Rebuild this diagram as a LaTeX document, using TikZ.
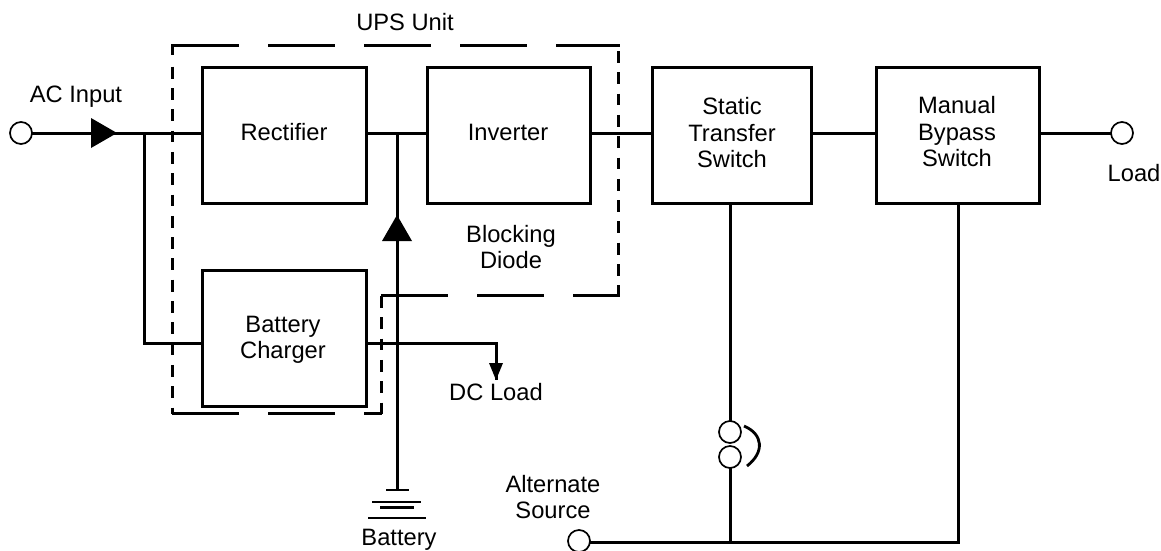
\documentclass[tikz,border=0pt]{standalone}
\usepackage{fontspec}
\setmainfont{Liberation Sans}
\tikzset{
  every picture/.style={x=1pt,y=-1pt},
  wire/.style={line width=3pt,line join=miter},
  blockbox/.style={draw,line width=3pt,anchor=north west,inner sep=0pt,outer sep=0pt},
  term/.style={circle,draw,line width=1.7pt,fill=white,inner sep=0pt,outer sep=0pt,minimum size=22pt},
  lbl/.style={inner sep=0pt,align=center,font=\fontsize{23.7pt}{26.5pt}\selectfont},
  tri/.style={fill=black,draw=none},
  longdash/.style={line width=3pt,dash pattern=on 67pt off 29pt},
  shortdash/.style={line width=3pt,dash pattern=on 11.8pt off 9.5pt},
}
\begin{document}
\begin{tikzpicture}
\useasboundingbox (0,0) rectangle (1161,550);
\fill[white] (0,0) rectangle (1161,550);
% blocks
\node[blockbox,minimum width=164pt,minimum height=136pt] (rect) at (202,67) {};
\node[lbl] at (284,132) {Rectifier};
\node[blockbox,minimum width=163pt,minimum height=136pt] (inv) at (427,67) {};
\node[lbl] at (508,132) {Inverter};
\node[blockbox,minimum width=159pt,minimum height=136pt] (sts) at (652,67) {};
\node[lbl] at (732,133) {Static\\Transfer\\Switch};
\node[blockbox,minimum width=163pt,minimum height=136pt] (mbs) at (876,67) {};
\node[lbl] at (957,132) {Manual\\Bypass\\Switch};
\node[blockbox,minimum width=164pt,minimum height=136pt] (chg) at (202,270) {};
\node[lbl] at (283,340) {Battery\\Charger};
% terminals
\node[term] (ac) at (21,133) {};
\node[term] (load) at (1122,133) {};
\node[term] (alt) at (579,541) {};
\node[term] (swa) at (730,432) {};
\node[term] (swb) at (730,457) {};
% helper points
\coordinate (j1) at (144,133);
\coordinate (j2) at (397,133);
\coordinate (batt) at (397,490);
\coordinate (chgout) at (366,343);
\coordinate (chgin) at (202,343);
\coordinate (dc) at (496,380);
\coordinate (j3) at (730,542);
\coordinate (j4) at (958,542);
% connectors
\draw[wire] (ac.east) -- (ac.east -| rect.west);
\draw[wire] (j1) |- (chgin);
\draw[wire] (rect.east |- ac.east) -- (inv.west |- ac.east);
\draw[wire] (inv.east |- ac.east) -- (sts.west |- ac.east);
\draw[wire] (sts.east |- ac.east) -- (mbs.west |- ac.east);
\draw[wire] (mbs.east |- ac.east) -- (load.west);
\draw[wire] (j2) -- (batt);
\draw[wire] (chgout) -| (dc);
\draw[wire] (swa.north |- sts.south) -- (swa.north);
\draw[wire] (swb.south) -- (j3);
\draw[wire] (j4 |- mbs.south) -- (j4) -- (alt.east |- j4);
% triangles
\fill[tri] (91,118) -- (117,133) -- (91,148) -- cycle;
\fill[tri] (382,241) -- (397,215) -- (412,241) -- cycle;
\fill[tri] (489,363) -- (503,363) -- (496,380) -- cycle;
% switch arc
\draw[line width=2.8pt] (744,426) .. controls (763,434) and (765,452) .. (747,466);
% battery plates
\draw[line width=2.6pt] (386,490) -- (409,490);
\draw[line width=2.2pt] (372,502) -- (421,502);
\draw[line width=2.2pt] (380,507.5) -- (414,507.5);
\draw[line width=2.8pt] (368,518) -- (426,518);
% dashed UPS outline
\draw[longdash] (172,45) -- (620,45);
\draw[shortdash] (618,51) -- (618,296);
\draw[longdash] (381,295) -- (620,295);
\draw[shortdash] (381,296) -- (381,415);
\draw[longdash] (172,413) -- (382,413);
\draw[line width=3pt] (172,44) -- (172,55);
\draw[shortdash] (172,66.7) -- (172,414);
% labels
\node[lbl] at (405,22) {UPS Unit};
\node[lbl] at (76,96.5) {AC Input};
\node[lbl] at (511,247) {Blocking\\Diode};
\node[lbl] at (496,392) {DC Load};
\node[lbl] at (553,497) {Alternate\\Source};
\node[lbl] at (399,540) {Battery};
\node[lbl] at (1134,173) {Load};
\end{tikzpicture}
\end{document}
